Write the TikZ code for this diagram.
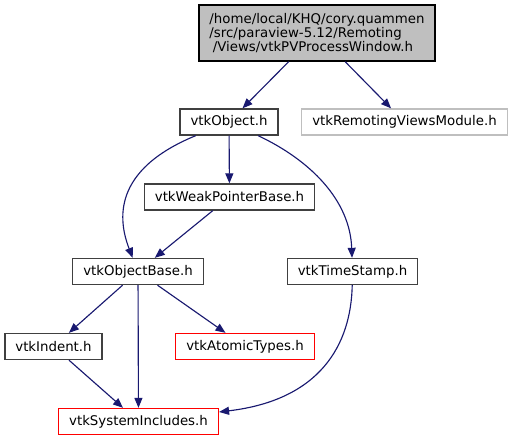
\documentclass[tikz,border=0pt]{standalone}
\usepackage{fontspec}
\setmainfont{DejaVu Sans}
\usetikzlibrary{arrows.meta}

\definecolor{edgeblue}{HTML}{191970}
\definecolor{mainfill}{HTML}{BFBFBF}
\definecolor{boxline}{HTML}{404040}

\begin{document}
\begin{tikzpicture}[
    x=0.75pt, y=-0.75pt,
    box/.style={draw=boxline, line width=1pt, minimum height=19.5pt,
                inner xsep=7.9pt, inner ysep=0pt,
                font=\fontsize{10}{10.2}\selectfont},
    mainbox/.style={box, draw=black, fill=mainfill, minimum width=172.5pt,
                minimum height=42pt, align=left},
    grey/.style={box, draw=mainfill},
    missing/.style={box, draw=red},
    flow/.style={-{Triangle[length=7.5pt,width=6pt]}, draw=edgeblue,
                 line width=0.85pt},
]

    \useasboundingbox (0,0) rectangle (513,440);

    \node[mainbox] (main) at (317,33) {/home/local/KHQ/cory.quammen\\
        /src/paraview-5.12/Remoting\\
        \hspace*{2.5pt}/Views/vtkPVProcessWindow.h};
    \node[box] (object) at (229,122) {vtkObject.h};
    \node[grey] (remoting) at (404.5,122) {vtkRemotingViewsModule.h};
    \node[box] (weak) at (229.5,197) {vtkWeakPointerBase.h};
    \node[box] (objbase) at (138,271.5) {vtkObjectBase.h};
    \node[box] (stamp) at (352.5,271.5) {vtkTimeStamp.h};
    \node[box] (indent) at (53.5,346.5) {vtkIndent.h};
    \node[missing] (atomic) at (245,346.5) {vtkAtomicTypes.h};
    \node[missing] (sysinc) at (138.5,421.5) {vtkSystemIncludes.h};

    \draw[flow] (main) -- (object);
    \draw[flow] (main) -- (remoting);
    \draw[flow] (object) -- (weak);
    \draw[flow] (object) .. controls (112,170) and (118,220) .. (objbase);
    \draw[flow] (object) .. controls (310,160) and (350,200) .. (stamp);
    \draw[flow] (weak) -- (objbase);
    \draw[flow] (objbase) -- (indent);
    \draw[flow] (objbase) -- (sysinc);
    \draw[flow] (objbase) -- (atomic);
    \draw[flow] (stamp) .. controls (351,345) and (320,400) .. (sysinc);
    \draw[flow] (indent) -- (sysinc);

\end{tikzpicture}
\end{document}
